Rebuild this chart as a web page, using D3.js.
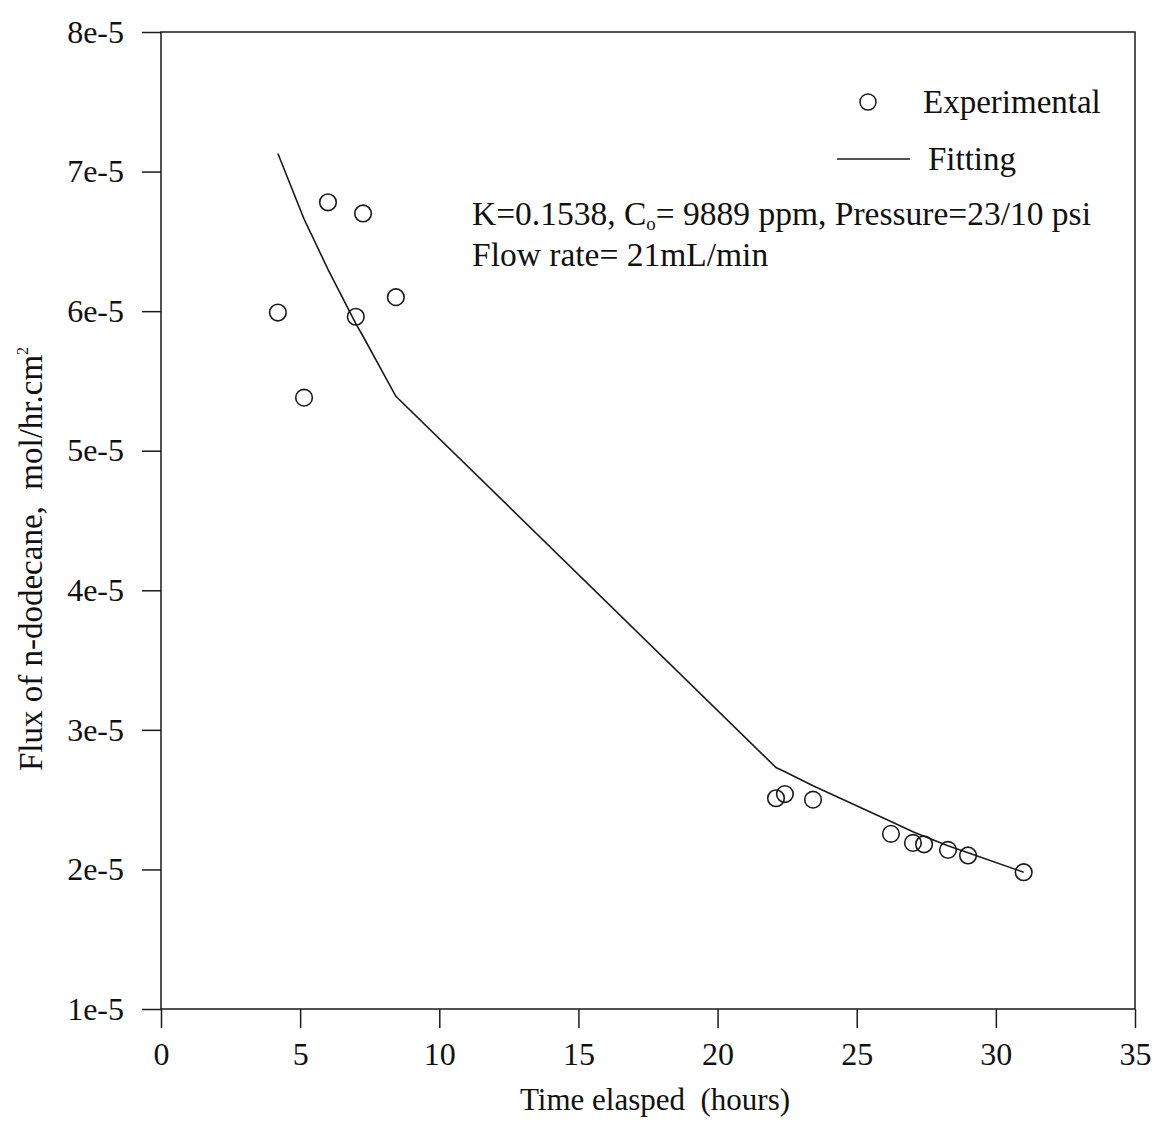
<!DOCTYPE html>
<html>
<head>
<meta charset="utf-8">
<script src="https://cdn.jsdelivr.net/npm/d3@7"></script>
<style>
  html, body { margin: 0; padding: 0; background: #fff; }
  svg { display: block; }
  text { font-family: "Liberation Serif", "Times New Roman", serif; fill: #111; white-space: pre; }
</style>
</head>
<body>
<svg id="chart" width="1158" height="1134"></svg>
<script>
// Measured flux of n-dodecane vs elapsed time
const expTime = [4.2, 5.14, 6.0, 7.0, 7.26, 8.44, 22.1, 22.42, 23.43, 26.23, 27.02, 27.42, 28.28, 29.0, 31.0];
const expFlux = [5.99e-5, 5.38e-5, 6.78e-5, 5.96e-5, 6.70e-5, 6.10e-5, 2.51e-5, 2.54e-5, 2.50e-5, 2.255e-5, 2.19e-5, 2.18e-5, 2.14e-5, 2.10e-5, 1.98e-5];

// Model curve evaluated at the same times
const fitTime = [4.2, 5.14, 6.0, 7.0, 7.26, 8.44, 22.1, 22.42, 23.43, 26.23, 27.02, 27.42, 28.28, 29.0, 31.0];
const fitFlux = [7.13e-5, 6.66e-5, 6.30e-5, 5.91e-5, 5.82e-5, 5.39e-5, 2.73e-5, 2.70e-5, 2.60e-5, 2.343e-5, 2.27e-5, 2.237e-5, 2.17e-5, 2.12e-5, 1.98e-5];

const xTicks = [0, 5, 10, 15, 20, 25, 30, 35];
const yTicks = [1e-5, 2e-5, 3e-5, 4e-5, 5e-5, 6e-5, 7e-5, 8e-5];

const svg = d3.select("#chart");
const plotL = 161, plotT = 32, plotR = 1135, plotB = 1009;

const x = d3.scaleLinear().domain([0, 35]).range([plotL, plotR]);
const y = d3.scaleLinear().domain([1e-5, 8e-5]).range([plotB, plotT]);

const ink = "#1a1a1a";
const serif = '"Liberation Serif", "Times New Roman", serif';

// Frame
svg.append("rect")
  .attr("x", plotL).attr("y", plotT)
  .attr("width", plotR - plotL).attr("height", plotB - plotT)
  .attr("fill", "none").attr("stroke", ink).attr("stroke-width", 1.5);

// Axes
const xAxis = d3.axisBottom(x).tickValues(xTicks).tickSize(19).tickSizeOuter(0).tickPadding(14)
  .tickFormat(d3.format("d"));
const gx = svg.append("g").attr("transform", `translate(0,${plotB})`).call(xAxis);

const yAxis = d3.axisLeft(y).tickValues(yTicks).tickSize(19).tickSizeOuter(0).tickPadding(18)
  .tickFormat(d => Math.round(d * 1e5) + "e-5");
const gy = svg.append("g").attr("transform", `translate(${plotL},0)`).call(yAxis);

[gx, gy].forEach(g => {
  g.select(".domain").remove();
  g.selectAll(".tick line").attr("stroke", ink).attr("stroke-width", 1.5);
  g.selectAll(".tick text")
    .style("font-family", serif)
    .style("font-size", "32px").attr("fill", "#111");
});

// Fitted curve
const line = d3.line().x((d, i) => x(fitTime[i])).y(d => y(d));
svg.append("path")
  .datum(fitFlux)
  .attr("d", line)
  .attr("fill", "none").attr("stroke", ink).attr("stroke-width", 1.6);

// Experimental points
svg.append("g").selectAll("circle")
  .data(expFlux)
  .join("circle")
  .attr("cx", (d, i) => x(expTime[i]))
  .attr("cy", d => y(d))
  .attr("r", 8.3)
  .attr("fill", "none").attr("stroke", ink).attr("stroke-width", 1.6);

// Legend
svg.append("circle").attr("cx", 868).attr("cy", 102).attr("r", 8)
  .attr("fill", "none").attr("stroke", ink).attr("stroke-width", 1.5);
svg.append("text").attr("x", 923).attr("y", 113).style("font-size", "33px").text("Experimental");
svg.append("line").attr("x1", 837).attr("x2", 910).attr("y1", 159).attr("y2", 159)
  .attr("stroke", ink).attr("stroke-width", 1.5);
svg.append("text").attr("x", 928).attr("y", 170).style("font-size", "33px").text("Fitting");

// Parameter annotation
const note = svg.append("text").attr("x", 472).attr("y", 225).style("font-size", "33.5px");
note.append("tspan").text("K=0.1538, C");
note.append("tspan").attr("dy", 5).style("font-size", "19px").text("o");
note.append("tspan").attr("dy", -5).text("= 9889 ppm, Pressure=23/10 psi");
svg.append("text").attr("x", 472).attr("y", 266).style("font-size", "33.5px").text("Flow rate= 21mL/min");

// Axis titles
svg.append("text").attr("x", 655).attr("y", 1110).attr("text-anchor", "middle")
  .style("font-size", "31px").text("Time elasped  (hours)");

const yt = svg.append("text")
  .attr("transform", "translate(42,559) rotate(-90)")
  .attr("text-anchor", "middle").style("font-size", "33px");
yt.append("tspan").text("Flux of n-dodecane,  mol/hr.cm");
yt.append("tspan").attr("dy", -14).style("font-size", "16px").text("2");
</script>
</body>
</html>
